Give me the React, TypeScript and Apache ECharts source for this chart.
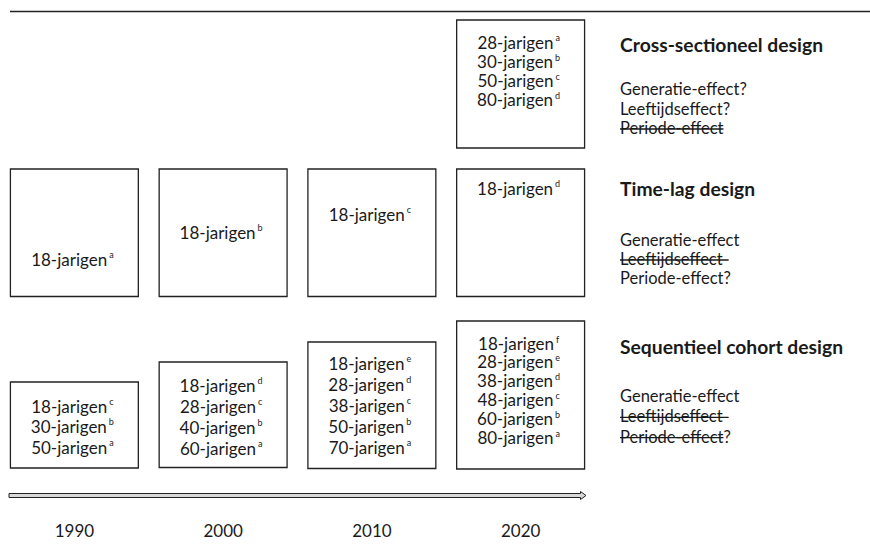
import React, { useEffect, useRef } from 'react';
import * as echarts from 'echarts';

// ---------- data ----------
const years = ['1990', '2000', '2010', '2020'];

const crossAges: number[][] = [[], [], [], [28, 30, 50, 80]];
const crossLetters: string[][] = [[], [], [], ['a', 'b', 'c', 'd']];

const timeLagAges: number[][] = [[18], [18], [18], [18]];
const timeLagLetters: string[][] = [['a'], ['b'], ['c'], ['d']];

const seqAges: number[][] = [
  [18, 30, 50],
  [18, 28, 40, 60],
  [18, 28, 38, 50, 70],
  [18, 28, 38, 48, 60, 80],
];
const seqLetters: string[][] = [
  ['c', 'b', 'a'],
  ['d', 'c', 'b', 'a'],
  ['e', 'd', 'c', 'b', 'a'],
  ['f', 'e', 'd', 'c', 'b', 'a'],
];

const designTitles = ['Cross-sectioneel design', 'Time-lag design', 'Sequentieel cohort design'];
const effectNames = ['Generatie-effect', 'Leeftijdseffect', 'Periode-effect'];
const effectSuffix: string[][] = [
  ['?', '?', ''],
  ['', '', '?'],
  ['', '', '?'],
];
const effectStruck: boolean[][] = [
  [false, false, true],
  [false, true, false],
  [false, true, true],
];

const rowAges = [crossAges, timeLagAges, seqAges];
const rowLetters = [crossLetters, timeLagLetters, seqLetters];

// ---------- layout (pixels) ----------
const FONT = 'Lato, "Gill Sans", sans-serif';
const INK = '#1a1a1a';
const BOX_TOP = [
  [20, 20, 20, 20],
  [169, 169, 169, 169],
  [382, 362, 342, 321],
];
const BOX_BOTTOM = [
  [148, 148, 148, 148],
  [296.5, 296.5, 296.5, 296.5],
  [468, 467.5, 468.5, 469],
];
const TEXT_FIRST = [
  [42, 42, 42, 42],
  [259, 232, 214, 188],
  [406, 385, 363, 343],
];
const LINE_H = [
  [19.2, 19.2, 19.2, 19.2],
  [20, 20, 20, 20],
  [20.5, 21, 21, 18.9],
];
const TITLE_Y = [44, 188, 346];
const EFFECT_Y0 = [89, 240, 396];
const EFFECT_LH = [19.5, 19, 20.3];
const STRIKE_EXT = [
  [0, 0, 0],
  [0, 6, 0],
  [0, 6, 0],
];
const RIGHT_X = 620;

function measure(text: string, font: string): number {
  const c = document.createElement('canvas').getContext('2d');
  if (!c) return text.length * 8;
  c.font = font;
  return c.measureText(text).width;
}

export default function App() {
  const ref = useRef<HTMLDivElement>(null);

  useEffect(() => {
    if (!ref.current) return;
    const chart = echarts.init(ref.current, undefined, { renderer: 'svg' });

    const boxData: number[][] = [];
    for (let r = 0; r < 3; r++) {
      for (let i = 0; i < years.length; i++) {
        if (rowAges[r][i].length) boxData.push([i, r]);
      }
    }

    const graphics: any[] = [
      {
        type: 'line',
        shape: { x1: 10, y1: 11.5, x2: 870, y2: 11.5 },
        style: { stroke: '#222', lineWidth: 1.6 },
      },
      {
        type: 'polygon',
        shape: {
          points: [
            [9, 493.5],
            [580.5, 493.5],
            [580.5, 491.5],
            [586, 495.5],
            [580.5, 499.5],
            [580.5, 497.5],
            [9, 497.5],
          ],
        },
        style: { fill: '#d8d8d8', stroke: '#222', lineWidth: 1 },
      },
    ];

    const effFont = `16.5px ${FONT}`;
    for (let r = 0; r < 3; r++) {
      graphics.push({
        type: 'text',
        x: RIGHT_X,
        y: TITLE_Y[r],
        style: {
          text: designTitles[r],
          fill: INK,
          font: `bold 19.3px ${FONT}`,
          verticalAlign: 'middle',
          align: 'left',
        },
      });
      for (let k = 0; k < effectNames.length; k++) {
        const y = EFFECT_Y0[r] + k * EFFECT_LH[r];
        graphics.push({
          type: 'text',
          x: RIGHT_X,
          y,
          style: {
            text: effectNames[k] + effectSuffix[r][k],
            fill: INK,
            font: effFont,
            verticalAlign: 'middle',
            align: 'left',
          },
        });
        if (effectStruck[r][k]) {
          const w = measure(effectNames[k], effFont) + STRIKE_EXT[r][k];
          graphics.push({
            type: 'line',
            shape: { x1: RIGHT_X, y1: y + 1, x2: RIGHT_X + w, y2: y + 1 },
            style: { stroke: INK, lineWidth: 1.3 },
          });
        }
      }
    }

    const option: any = {
      animation: false,
      grid: { left: -1, top: 0, width: 596, height: 510 },
      xAxis: {
        type: 'category',
        data: years,
        axisLine: { show: false },
        axisTick: { show: false },
        splitLine: { show: false },
        axisLabel: { fontFamily: FONT, fontSize: 17, color: INK, margin: 12 },
      },
      yAxis: {
        type: 'value',
        inverse: true,
        min: 0,
        max: 510,
        show: false,
      },
      series: [
        {
          type: 'custom',
          data: boxData,
          renderItem: (params: any, api: any) => {
            const i = api.value(0);
            const r = api.value(1);
            const cx = api.coord([i, 0])[0];
            const bw = api.size([1, 0])[0] * 0.86;
            const top = api.coord([i, BOX_TOP[r][i]])[1];
            const bottom = api.coord([i, BOX_BOTTOM[r][i]])[1];
            const lh = LINE_H[r][i];
            const firstY = api.coord([i, TEXT_FIRST[r][i]])[1];
            const lines = rowAges[r][i].map(
              (a: number, k: number) => `{m|${a}-jarigen}{s|${rowLetters[r][i][k]}}`
            );
            return {
              type: 'group',
              children: [
                {
                  type: 'rect',
                  shape: { x: cx - bw / 2, y: top, width: bw, height: bottom - top },
                  style: { fill: '#fff', stroke: '#222', lineWidth: 1.3 },
                },
                {
                  type: 'text',
                  x: cx - 2,
                  y: firstY - lh / 2,
                  style: {
                    text: lines.join('\n'),
                    align: 'center',
                    verticalAlign: 'top',
                    rich: {
                      m: { fontFamily: FONT, fontSize: 17, lineHeight: lh, fill: INK, color: INK },
                      s: {
                        fontFamily: FONT,
                        fontSize: 9,
                        lineHeight: 9,
                        verticalAlign: 'top',
                        padding: [1, 0, 0, 2],
                        fill: INK,
                        color: INK,
                      },
                    },
                  },
                },
              ],
            };
          },
        },
      ],
      graphic: graphics,
    };

    chart.setOption(option);
    return () => chart.dispose();
  }, []);

  return (
    <div
      ref={ref}
      style={{ position: 'fixed', left: 0, top: 0, width: 870, height: 559, background: '#fff' }}
    />
  );
}
